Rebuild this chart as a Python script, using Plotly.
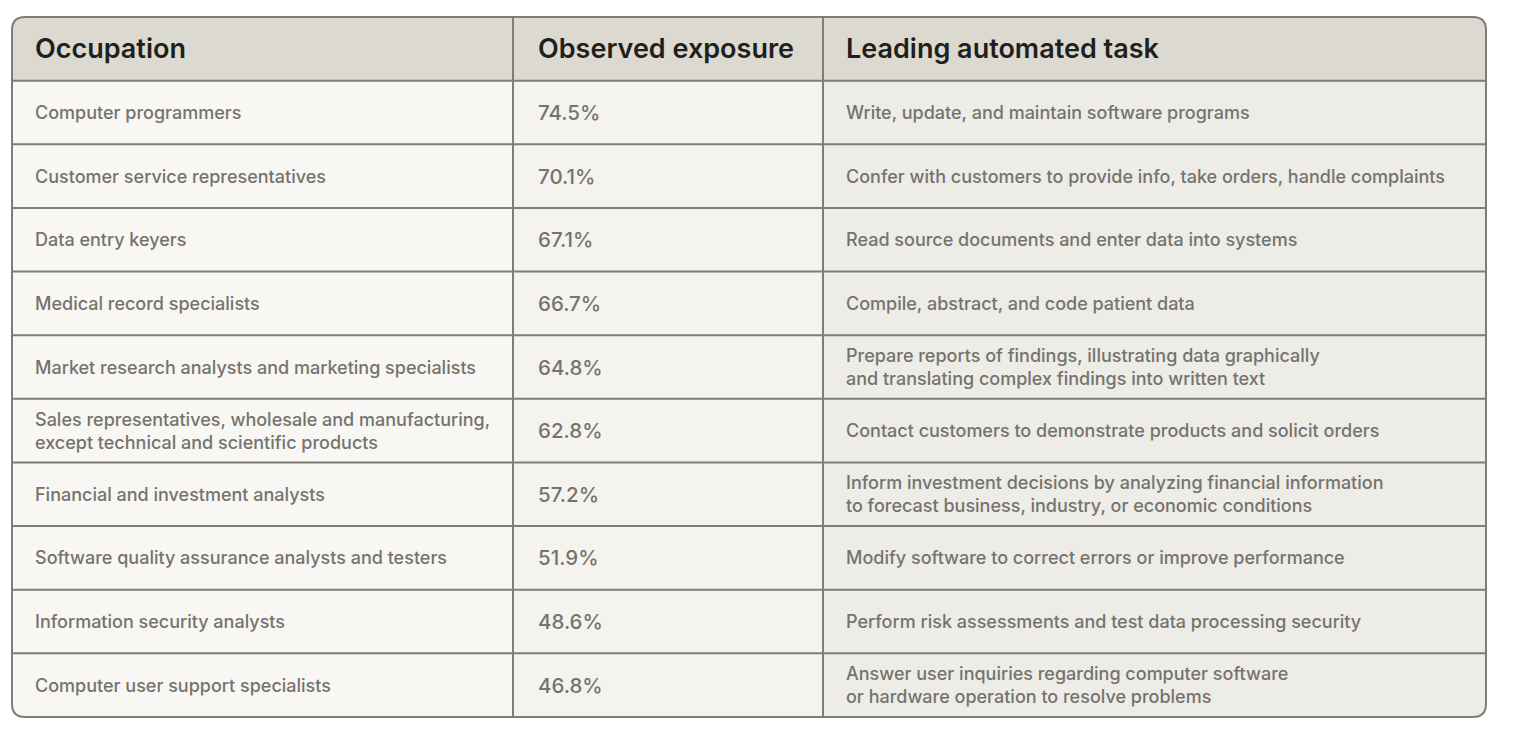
import plotly.graph_objects as go

# Table content
header = ["Occupation", "Observed exposure", "Leading automated task"]
occupations = [
    "Computer programmers",
    "Customer service representatives",
    "Data entry keyers",
    "Medical record specialists",
    "Market research analysts and marketing specialists",
    "Sales representatives, wholesale and manufacturing,<br>except technical and scientific products",
    "Financial and investment analysts",
    "Software quality assurance analysts and testers",
    "Information security analysts",
    "Computer user support specialists",
]
exposure = [74.5, 70.1, 67.1, 66.7, 64.8, 62.8, 57.2, 51.9, 48.6, 46.8]
tasks = [
    "Write, update, and maintain software programs",
    "Confer with customers to provide info, take orders, handle complaints",
    "Read source documents and enter data into systems",
    "Compile, abstract, and code patient data",
    "Prepare reports of findings, illustrating data graphically<br>and translating complex findings into written text",
    "Contact customers to demonstrate products and solicit orders",
    "Inform investment decisions by analyzing financial information<br>to forecast business, industry, or economic conditions",
    "Modify software to correct errors or improve performance",
    "Perform risk assessments and test data processing security",
    "Answer user inquiries regarding computer software<br>or hardware operation to resolve problems",
]

# Layout (pixels); the page body adds an 8px margin around the figure
FIG_W, FIG_H = 1505, 720
col_edges = [0, 501, 811, 1474]
TABLE_LEFT, TABLE_TOP, TABLE_H = 4, 9, 700
LINE = "#7e7d78"
FILLS = ["#dcd9d0", "#f8f7f3", "#f4f3ee", "#edece6"]

columns = [occupations, [f"{v:.1f}%" for v in exposure], tasks]
n_rows = len(occupations) + 1
row_px = TABLE_H / n_rows
table_w = col_edges[-1]

# Cell backgrounds: header code 0, body columns 1..3
z = [[0] * len(header)] + [[1, 2, 3] for _ in occupations]
fig = go.Figure(
    go.Heatmap(
        z=z,
        x=col_edges,
        y=list(range(n_rows + 1)),
        zmin=0,
        zmax=3,
        colorscale=[[i / 3, c] for i, c in enumerate(FILLS)],
        showscale=False,
        hoverinfo="skip",
    )
)

# Grid lines
for xe in col_edges[1:-1]:
    fig.add_shape(type="line", x0=xe, x1=xe, y0=0, y1=n_rows,
                  line=dict(color=LINE, width=2))
for r in range(1, n_rows):
    fig.add_shape(type="line", x0=0, x1=table_w, y0=r, y1=r,
                  line=dict(color=LINE, width=2))

# Rounded outer border with white corner masks
rx, ry = 13, 13 / row_px
W, B = table_w, n_rows
corners = [
    f"M 0,0 L {rx},0 Q 0,0 0,{ry} Z",
    f"M {W},0 L {W - rx},0 Q {W},0 {W},{ry} Z",
    f"M {W},{B} L {W - rx},{B} Q {W},{B} {W},{B - ry} Z",
    f"M 0,{B} L {rx},{B} Q 0,{B} 0,{B - ry} Z",
]
for p in corners:
    fig.add_shape(type="path", path=p, fillcolor="white", line_width=0)
fig.add_shape(
    type="path",
    path=(f"M {rx},0 L {W - rx},0 Q {W},0 {W},{ry} L {W},{B - ry} "
          f"Q {W},{B} {W - rx},{B} L {rx},{B} Q 0,{B} 0,{B - ry} "
          f"L 0,{ry} Q 0,0 {rx},0 Z"),
    line=dict(color=LINE, width=2),
)

# Text
shifts = [21, 23, 21]
for c, title in enumerate(header):
    fig.add_annotation(
        x=col_edges[c], y=0.5, text=title, xanchor="left", yanchor="middle",
        xshift=shifts[c], showarrow=False, align="left",
        font=dict(family="Inter", size=27, color="#1f1f1d", weight=600),
    )
cell_fonts = [
    dict(family="Inter", size=18, color="#74736e", weight=500),
    dict(family="Inter", size=20.5, color="#74736e", weight=500),
    dict(family="Inter", size=18, color="#74736e", weight=500),
]
for c, vals in enumerate(columns):
    for r, txt in enumerate(vals):
        fig.add_annotation(
            x=col_edges[c], y=r + 1.5, text=txt, xanchor="left",
            yanchor="middle", xshift=shifts[c], showarrow=False,
            align="left", font=cell_fonts[c],
        )

fig.update_xaxes(
    range=[-TABLE_LEFT, FIG_W - TABLE_LEFT], visible=False, fixedrange=True
)
fig.update_yaxes(
    range=[(FIG_H - TABLE_TOP) / row_px, -TABLE_TOP / row_px],
    visible=False, fixedrange=True,
)
fig.update_layout(
    width=FIG_W,
    height=FIG_H,
    margin=dict(l=0, r=0, t=0, b=0),
    paper_bgcolor="white",
    plot_bgcolor="white",
    showlegend=False,
)

fig.write_html("out.html")
